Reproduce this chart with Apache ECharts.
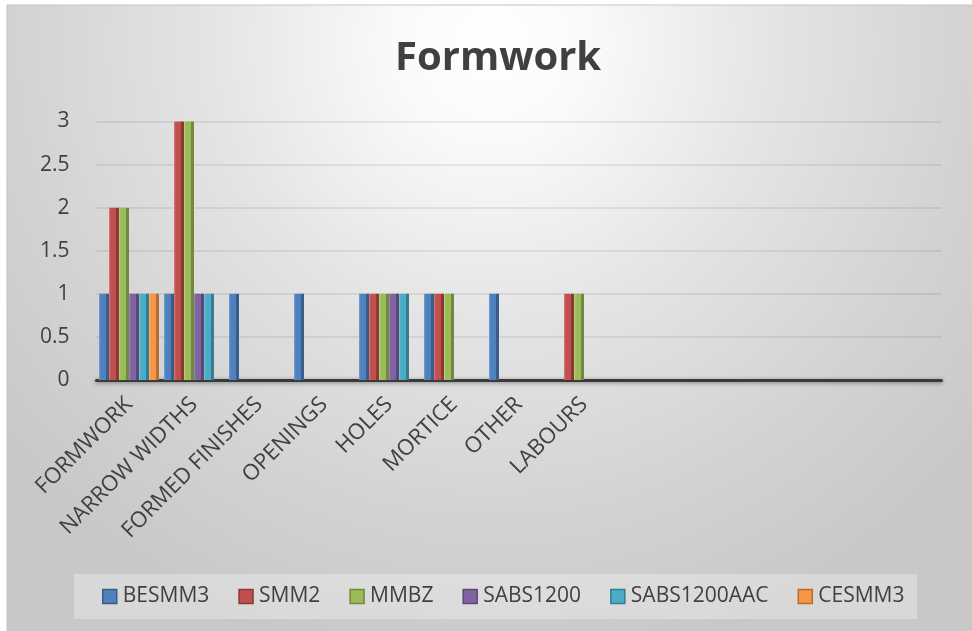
<!DOCTYPE html>
<html>
<head>
<meta charset="utf-8">
<script src="https://cdn.jsdelivr.net/npm/echarts@6/dist/echarts.min.js"></script>
<style>
  html, body { margin: 0; padding: 0; background: #ffffff; }
  #chart { width: 972px; height: 631px; }
</style>
</head>
<body>
<div id="chart"></div>
<script>
// Category names (the trailing blanks keep the empty slots on the axis)
const categories = ['FORMWORK', 'NARROW WIDTHS', 'FORMED FINISHES', 'OPENINGS', 'HOLES', 'MORTICE', 'OTHER', 'LABOURS', '', '', '', '', ''];

// Counts per measurement standard, one value per category
const besmm3      = [1, 1, 1, 1, 1, 1, 1, 0, 0, 0, 0, 0, 0];
const smm2        = [2, 3, 0, 0, 1, 1, 0, 1, 0, 0, 0, 0, 0];
const mmbz        = [2, 3, 0, 0, 1, 1, 0, 1, 0, 0, 0, 0, 0];
const sabs1200    = [1, 1, 0, 0, 1, 0, 0, 0, 0, 0, 0, 0, 0];
const sabs1200aac = [1, 1, 0, 0, 1, 0, 0, 0, 0, 0, 0, 0, 0];
const cesmm3      = [1, 0, 0, 0, 0, 0, 0, 0, 0, 0, 0, 0, 0];

const seriesNames = ['BESMM3', 'SMM2', 'MMBZ', 'SABS1200', 'SABS1200AAC', 'CESMM3'];
const seriesData = [besmm3, smm2, mmbz, sabs1200, sabs1200aac, cesmm3];

// Y axis ticks
const yMin = 0, yMax = 3, yStep = 0.5;

// Palette: base, light edge, shaded side
const palette = [
  { base: '#4f81bd', light: '#7aa1d3', dark: '#385d8a' },
  { base: '#c0504d', light: '#d9807d', dark: '#8c3836' },
  { base: '#9bbb59', light: '#b9d382', dark: '#71893f' },
  { base: '#8064a2', light: '#a28bc0', dark: '#5c4776' },
  { base: '#4bacc6', light: '#7dc6d9', dark: '#357d91' },
  { base: '#f79646', light: '#fab57c', dark: '#b66d31' }
];

const FONT = '"Open Sans", "DejaVu Sans", sans-serif';
const chart = echarts.init(document.getElementById('chart'), null, { renderer: 'canvas' });

// Horizontal shading gives each column a lit front edge and a darker side
function barFill(p) {
  return new echarts.graphic.LinearGradient(0, 0, 1, 0, [
    { offset: 0, color: p.light },
    { offset: 0.18, color: p.base },
    { offset: 0.66, color: p.base },
    { offset: 0.74, color: p.dark },
    { offset: 1, color: p.dark }
  ]);
}

const series = seriesNames.map((name, i) => ({
  name: name,
  type: 'bar',
  data: seriesData[i],
  barGap: '0%',
  barCategoryGap: '7.7%',
  itemStyle: { color: barFill(palette[i]) },
  emphasis: { disabled: true }
}));

chart.setOption({
  animation: false,
  graphic: [
    {
      type: 'rect',
      z: -10,
      silent: true,
      shape: { x: 7, y: 5, width: 970, height: 630 },
      style: {
        fill: new echarts.graphic.RadialGradient(0.5, 0.06, 1, [
          { offset: 0, color: '#ffffff' },
          { offset: 0.15, color: '#fafafa' },
          { offset: 0.45, color: '#e4e4e4' },
          { offset: 0.75, color: '#d3d3d3' },
          { offset: 1, color: '#c8c8c8' }
        ]),
        stroke: '#c4c4c4',
        lineWidth: 1
      }
    },
    {
      type: 'rect',
      z: -9,
      silent: true,
      shape: { x: 74, y: 574, width: 843, height: 45 },
      style: { fill: 'rgba(255,255,255,0.3)' }
    }
  ],
  title: {
    text: 'Formwork',
    left: 395,
    top: 39,
    padding: 0,
    textStyle: { fontFamily: FONT, fontSize: 40, fontWeight: 'bold', color: '#404040' }
  },
  legend: {
    data: seriesNames.map((n, i) => ({
      name: n,
      itemStyle: { color: palette[i].base, borderColor: palette[i].dark, borderWidth: 1.5 }
    })),
    left: 102,
    top: 586,
    padding: 0,
    icon: 'rect',
    itemWidth: 14,
    itemHeight: 14,
    itemGap: 29,
    textStyle: { fontFamily: FONT, fontSize: 21, color: '#404040', padding: [0, 0, 0, 1] },
    selectedMode: false
  },
  grid: { left: 96.5, right: 30.5, top: 121.5, bottom: 251, containLabel: false },
  xAxis: {
    type: 'category',
    data: categories,
    axisLine: {
      lineStyle: { color: '#3a3a3a', width: 3, shadowBlur: 4, shadowColor: 'rgba(0,0,0,0.45)', shadowOffsetY: 1 }
    },
    axisTick: { show: false },
    axisLabel: {
      interval: 0,
      rotate: 45,
      margin: 21,
      fontFamily: FONT,
      fontSize: 22,
      color: '#404040'
    }
  },
  yAxis: {
    type: 'value',
    min: yMin,
    max: yMax,
    interval: yStep,
    axisLine: { show: false },
    axisTick: { show: false },
    splitLine: { lineStyle: { color: 'rgba(0,0,0,0.07)', width: 2 } },
    axisLabel: {
      margin: 27,
      fontFamily: FONT,
      fontSize: 21,
      color: '#404040'
    }
  },
  series: series
});
</script>
</body>
</html>
